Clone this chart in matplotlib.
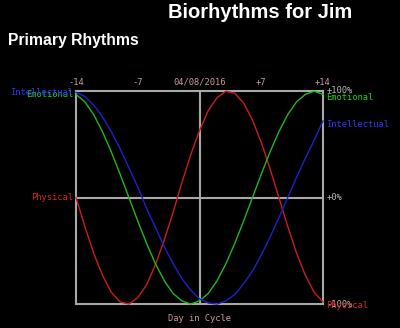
import matplotlib
matplotlib.use("Agg")
import matplotlib.pyplot as plt

days = list(range(-14, 15))
physical = [0.00, -0.27, -0.52, -0.73, -0.89, -0.98, -1.00, -0.94, -0.82, -0.63, -0.40, -0.14, 0.14, 0.40,
            0.63, 0.82, 0.94, 1.00, 0.98, 0.89, 0.73, 0.52, 0.27, 0.00, -0.27, -0.52, -0.73, -0.89, -0.98]
emotional = [0.97, 0.90, 0.78, 0.62, 0.43, 0.22, 0.00, -0.22, -0.43, -0.62, -0.78, -0.90, -0.97, -1.00,
             -0.97, -0.90, -0.78, -0.62, -0.43, -0.22, 0.00, 0.22, 0.43, 0.62, 0.78, 0.90, 0.97, 1.00, 0.97]
intellectual = [0.99, 0.95, 0.87, 0.76, 0.62, 0.46, 0.28, 0.10, -0.10, -0.28, -0.46, -0.62, -0.76, -0.87,
                -0.95, -0.99, -1.00, -0.97, -0.91, -0.81, -0.69, -0.54, -0.37, -0.19, 0.00, 0.19, 0.37, 0.54, 0.72]

tick_pos = [-14, -7, 0, 7, 14]
tick_labels = ["-14", "-7", "04/08/2016", "+7", "+14"]
pct_pos = [1, 0, -1]
pct_labels = ["+100%", "+0%", "-100%"]

series = [("Physical", physical, "#c81e1e", "#e02424"),
          ("Emotional", emotional, "#1fb81f", "#22d022"),
          ("Intellectual", intellectual, "#2020c8", "#3434ff")]

fig = plt.figure(figsize=(4.0, 3.28), dpi=100, facecolor="black")
ax = fig.add_axes([0.19, 0.073, 0.6175, 0.649], facecolor="black")
ax.set_xlim(-14, 14)
ax.set_ylim(-1, 1)
grid_c = "#a8a8a8"
for s in ax.spines.values():
    s.set_color(grid_c)
    s.set_linewidth(1.5)
ax.set_xticks([])
ax.set_yticks([])
ax.axvline(0, color=grid_c, lw=1.5, zorder=1)
ax.axhline(0, color=grid_c, lw=1.5, zorder=1)

mono = "DejaVu Sans Mono"
fs = 6.3
for name, vals, c, lc in series:
    ax.plot(days, vals, color=c, lw=1.0, zorder=3, clip_on=False)

# top ticks
for p, l in zip(tick_pos, tick_labels):
    ax.text(p, 1.04, l, ha="center", va="bottom",
            fontsize=fs, family=mono, color="#d09a9a")

# right percentage labels
for p, l in zip(pct_pos, pct_labels):
    dy = 0.01 if p == 1 else 0
    ax.text(14.4, p + dy, l, ha="left", va="center", fontsize=fs, family=mono, color="#b8b8b8")

# left and right series labels
for name, vals, c, lc in series:
    ax.text(-14.3, vals[0], name, ha="right", va="center", fontsize=fs, family=mono, color=lc)
    ax.text(14.3, vals[-1] - 0.03, name, ha="left", va="center", fontsize=fs, family=mono, color=lc)

ax.text(0, -1.09, "Day in Cycle", ha="center", va="top", fontsize=fs, family=mono, color="#d09a9a")

fig.text(0.42, 0.963, "Biorhythms for Jim", ha="left", va="center", fontsize=14.5,
         family="Liberation Sans", weight="bold", color="white")
fig.text(0.02, 0.878, "Primary Rhythms", ha="left", va="center", fontsize=11.3,
         family="Liberation Sans", weight="bold", color="white")

fig.savefig("out.png", dpi=100, facecolor="black")
